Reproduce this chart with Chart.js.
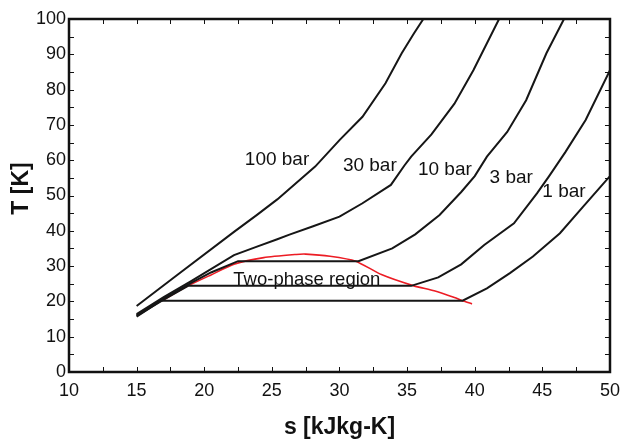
<!DOCTYPE html>
<html>
<head>
<meta charset="utf-8">
<title>T-s diagram</title>
<script src="https://cdn.jsdelivr.net/npm/chart.js@4.4.0/dist/chart.umd.min.js"></script>
<style>
  html, body { margin: 0; padding: 0; background: #fff; }
  #wrap { width: 628px; height: 442px; }
</style>
</head>
<body>
<div id="wrap"><canvas id="tsChart" width="628" height="442"></canvas></div>
<script>
// 📈 T-s diagram - isobars + saturation dome

// --- data (s in kJ/kg-K, T in K) ---
const s100 = [15, 18, 22.2, 23.9, 25.4, 28.2, 30, 31.7, 33.4, 34.6, 35.5, 36.2];
const t100 = [18.7, 27.5, 39.7, 44.5, 48.9, 58.2, 65.7, 72.3, 81.8, 90.3, 95.9, 100];

const s30 = [15, 17, 19, 22.2, 23.9, 25.4, 26.3, 28, 30, 31.7, 33.8, 34.8, 35.3, 36.8, 38.5, 39.9, 41.8];
const t30 = [16.4, 21.2, 25.7, 33.1, 35.5, 37.6, 38.9, 41.2, 44, 47.8, 53, 58.5, 61, 67.3, 76, 85.5, 100];

const s10 = [15, 17, 19, 20.5, 22.5, 31.4, 33.9, 35.6, 37.4, 39, 40, 40.9, 42.4, 43.8, 45.3, 46.6];
const t10 = [16.1, 20.8, 25.2, 28.2, 31.4, 31.4, 35, 39, 44.5, 51, 55.5, 61, 68, 77, 90.3, 100];

const s3 = [15, 17, 18.8, 35.3, 37.3, 39, 40.7, 42.9, 44.6, 45.5, 46.7, 48.2, 50];
const t3 = [15.9, 20.5, 24.4, 24.4, 26.8, 30.5, 36, 42.1, 50.6, 55.5, 62.3, 71.4, 85.5];

const s1 = [15, 16.8, 39.1, 40.9, 42.6, 44.3, 46.3, 48, 49.2, 50];
const t1 = [15.7, 20.2, 20.2, 23.7, 28, 32.7, 39.3, 46.8, 52, 55.5];

// saturation dome (red)
const domeS = [17, 18.8, 20.5, 22.2, 24.4, 26.8, 27.5, 29.3, 31.2, 33.1, 35.5, 37, 38.5, 39.1, 39.8];
const domeT = [20.5, 24.4, 27.5, 30.5, 32.4, 33.3, 33.4, 32.8, 31.4, 27.6, 24.4, 23, 21.1, 20.2, 19.3];

// axes
const xMin = 10, xMax = 50, xStep = 5, xMinor = 2.5;
const yMin = 0, yMax = 100, yStep = 10, yMinor = 5;

// in-plot labels: text, s, T (baseline)
const curveLabels = ['100 bar', '30 bar', '10 bar', '3 bar', '1 bar', 'Two-phase region'];
const curveLabelS = [23.0, 30.25, 35.8, 41.1, 45.0, 22.15];
const curveLabelT = [58.5, 56.9, 55.8, 53.4, 49.7, 24.7];

function toPoints(xs, ys) {
  return xs.map((v, i) => ({ x: v, y: ys[i] }));
}

function isobar(xs, ys) {
  return {
    data: toPoints(xs, ys),
    showLine: true,
    borderColor: '#161616',
    borderWidth: 2,
    pointRadius: 0,
    tension: 0,
    fill: false
  };
}

/**
 * frame + inside ticks on all four sides
 */
const framePlugin = {
  id: 'frame',
  afterDatasetsDraw(chart) {
    const { ctx, chartArea: a, scales: { x, y } } = chart;
    const len = 5;
    ctx.save();
    ctx.strokeStyle = '#111';
    ctx.lineWidth = 1;
    ctx.beginPath();
    for (let v = xMin + xMinor; v < xMax; v += xMinor) {
      const px = Math.round(x.getPixelForValue(v)) + 0.5;
      ctx.moveTo(px, a.bottom); ctx.lineTo(px, a.bottom - len);
      ctx.moveTo(px, a.top); ctx.lineTo(px, a.top + len);
    }
    for (let v = yMin + yMinor; v < yMax; v += yMinor) {
      const py = Math.round(y.getPixelForValue(v)) + 0.5;
      ctx.moveTo(a.left, py); ctx.lineTo(a.left + len, py);
      ctx.moveTo(a.right, py); ctx.lineTo(a.right - len, py);
    }
    ctx.stroke();

    ctx.lineWidth = 2.5;
    ctx.strokeStyle = '#111';
    ctx.strokeRect(a.left, a.top, a.right - a.left, a.bottom - a.top);
    ctx.restore();
  }
};

/**
 * curve labels + y title
 */
const labelPlugin = {
  id: 'curveLabels',
  afterDraw(chart) {
    const { ctx, chartArea: a, scales: { x, y } } = chart;
    ctx.save();
    ctx.fillStyle = '#111';
    ctx.textAlign = 'left';
    ctx.textBaseline = 'alphabetic';
    curveLabels.forEach((txt, i) => {
      ctx.font = (i === 5 ? '18.5px' : '19px') + ' "Liberation Sans", Arial, sans-serif';
      ctx.fillText(txt, x.getPixelForValue(curveLabelS[i]), y.getPixelForValue(curveLabelT[i]));
    });

    // y axis title
    ctx.font = 'bold 23px "Liberation Sans", Arial, sans-serif';
    ctx.textAlign = 'center';
    ctx.textBaseline = 'middle';
    ctx.translate(22, (a.top + a.bottom) / 2 - 7);
    ctx.rotate(-Math.PI / 2);
    ctx.fillText('T [K]', 0, 0);
    ctx.restore();
  }
};

function drawChart() {
  const ctx = document.getElementById('tsChart').getContext('2d');
  const tickFont = { family: '"Liberation Sans", Arial, sans-serif', size: 18 };

  new Chart(ctx, {
    type: 'scatter',
    data: {
      datasets: [
        isobar(s100, t100),
        isobar(s30, t30),
        isobar(s10, t10),
        isobar(s3, t3),
        isobar(s1, t1),
        {
          data: toPoints(domeS, domeT),
          showLine: true,
          borderColor: '#ec1c24',
          borderWidth: 1.6,
          pointRadius: 0,
          tension: 0.2,
          fill: false
        }
      ]
    },
    options: {
      responsive: false,
      animation: false,
      devicePixelRatio: 1,
      layout: { padding: { top: 19, right: 10, left: 0, bottom: 0 } },
      plugins: {
        legend: { display: false },
        tooltip: { enabled: false }
      },
      scales: {
        x: {
          type: 'linear',
          min: xMin,
          max: xMax,
          grid: { display: false, drawTicks: false },
          border: { display: false },
          ticks: { stepSize: xStep, color: '#111', font: tickFont, padding: 8, maxRotation: 0 },
          title: {
            display: true,
            text: 's [kJkg-K]',
            color: '#111',
            font: { family: '"Liberation Sans", Arial, sans-serif', size: 23, weight: 'bold' },
            padding: { top: 0, bottom: 1 }
          },
          afterFit: (scale) => { scale.height = 70; }
        },
        y: {
          type: 'linear',
          min: yMin,
          max: yMax,
          grid: { display: false, drawTicks: false },
          border: { display: false },
          ticks: { stepSize: yStep, color: '#111', font: tickFont, padding: 3 },
          afterFit: (scale) => { scale.width = 69; }
        }
      }
    },
    plugins: [framePlugin, labelPlugin]
  });
}

drawChart();
console.log('✅ T-s chart drawn');
</script>
</body>
</html>
